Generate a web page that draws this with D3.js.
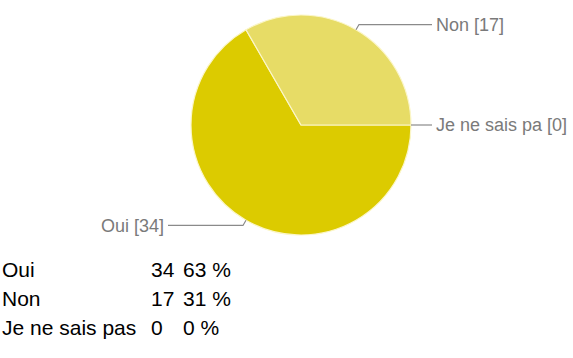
<!DOCTYPE html>
<html>
<head>
<meta charset="utf-8">
<script src="https://cdn.jsdelivr.net/npm/d3@7/dist/d3.min.js"></script>
<style>
  html, body { margin: 0; padding: 0; background: #fff; }
  svg { display: block; }
</style>
</head>
<body>
<svg id="chart" width="573" height="358"></svg>
<script>
// Survey answers
const categories = ["Oui", "Non", "Je ne sais pas"];
const sliceLabels = ["Oui", "Non", "Je ne sais pa"];
const counts = [34, 17, 0];
const percentLabels = ["63 %", "31 %", "0 %"];
const colors = ["#dccb00", "#e7dc66", "#f0e9a8"];

const svg = d3.select("#chart");

const cx = 301, cy = 125, r = 110;

const pie = d3.pie()
  .value(d => d.count)
  .sort(null)
  .startAngle(Math.PI / 2)
  .endAngle(Math.PI / 2 + 2 * Math.PI);

const data = categories.map((c, i) => ({
  name: c, label: sliceLabels[i], count: counts[i], color: colors[i]
}));
const arcs = pie(data);

const arc = d3.arc().innerRadius(0).outerRadius(r);

const g = svg.append("g").attr("transform", `translate(${cx},${cy})`);

g.selectAll("path.slice")
  .data(arcs.filter(d => d.data.count > 0))
  .join("path")
  .attr("class", "slice")
  .attr("d", arc)
  .attr("fill", d => d.data.color)
  .attr("stroke", "#fbf6c8")
  .attr("stroke-width", 1.2)
  .attr("stroke-linejoin", "round");

// Leader lines and labels
const pt = (a, rad) => [Math.sin(a) * rad, -Math.cos(a) * rad];
arcs.forEach(d => {
  const mid = (d.startAngle + d.endAngle) / 2;
  const p0 = pt(mid, r);
  const p1 = pt(mid, r + 6);
  const right = Math.sin(mid) >= 0;
  const xEnd = right ? 131 : -133;
  g.append("polyline")
    .attr("points", [p0, p1, [xEnd, p1[1]]].map(p => p.join(",")).join(" "))
    .attr("fill", "none")
    .attr("stroke", "#8a8a8a")
    .attr("stroke-width", 1.2);
  g.append("text")
    .attr("x", right ? xEnd + 4 : xEnd - 4)
    .attr("y", p1[1])
    .attr("dy", "0.35em")
    .attr("text-anchor", right ? "start" : "end")
    .attr("font-family", "Arial, 'Liberation Sans', sans-serif")
    .attr("font-size", 18)
    .attr("fill", "#7a7a7a")
    .text(`${d.data.label} [${d.data.count}]`);
});

// Summary table below the pie
const rowY = d3.scalePoint().domain(categories).range([277, 335]);
const table = svg.append("g")
  .attr("font-family", "Arial, 'Liberation Sans', sans-serif")
  .attr("font-size", 21)
  .attr("fill", "#000");

categories.forEach((c, i) => {
  const y = rowY(c);
  table.append("text").attr("x", 2).attr("y", y).text(c);
  table.append("text").attr("x", 151).attr("y", y).text(counts[i]);
  table.append("text").attr("x", 183).attr("y", y).text(percentLabels[i]);
});
</script>
</body>
</html>
